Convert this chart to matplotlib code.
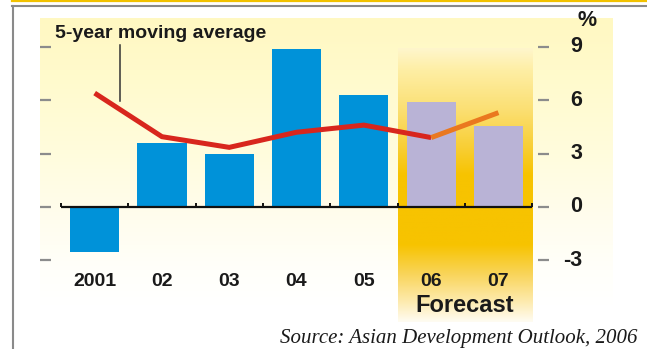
import numpy as np
import matplotlib.pyplot as plt
from matplotlib.lines import Line2D
from matplotlib.colors import to_rgb
import matplotlib.transforms as mtransforms

# GDP growth, % (2006-07 are forecasts)
years = ["2001", "02", "03", "04", "05", "06", "07"]
growth = [-2.55, 3.6, 3.0, 8.9, 6.3, 5.9, 4.55]
moving_avg = [6.4, 3.95, 3.35, 4.2, 4.6, 3.9, 5.3]
forecast_from = 5
yticks = [-3, 0, 3, 6, 9]

W, H = 647, 349
BAR_BLUE = "#0092d9"
BAR_LILAC = "#b9b3d6"
LINE_RED = "#d8261d"
LINE_ORANGE = "#ea781f"
LABEL_FONT = ["Liberation Sans", "DejaVu Sans"]
LABEL_SIZE = 14

# pixel layout of the plotting area
x0px, xstep = 61.0, 67.3      # left edge of first category, category width
y0px, ystep = 207.0, 17.8     # zero line, pixels per percentage point


def box(x0, y0, x1, y1):
    return [x0 / W, 1 - y1 / H, (x1 - x0) / W, (y1 - y0) / H]


def gradient(stops, n=300):
    pos = np.array([s[0] for s in stops], dtype=float)
    cols = np.array([to_rgb(s[1]) for s in stops])
    t = np.linspace(pos[0], pos[-1], n)
    img = np.stack([np.interp(t, pos, cols[:, k]) for k in range(3)], axis=1)
    return img[:, None, :]


fig = plt.figure(figsize=(W / 100, H / 100), dpi=100)

# pale yellow backdrop panel
bg = fig.add_axes(box(40, 18, 613, 305))
bg.imshow(gradient([(18, "#fff8c2"), (70, "#fffacb"), (150, "#fffcdc"),
                    (220, "#fffdee"), (270, "#fffffa"), (305, "#ffffff")]),
          aspect="auto", extent=(0, 1, 0, 1))
bg.axis("off")

ax = fig.add_axes(box(40, 18, 549, 300))
ax.patch.set_alpha(0)
xlim = (-0.5 - (x0px - 40) / xstep, -0.5 + (549 - x0px) / xstep)
ylim = (-(300 - y0px) / ystep, (y0px - 18) / ystep)
ax.set_xlim(*xlim)
ax.set_ylim(*ylim)
for s in ax.spines.values():
    s.set_visible(False)

# forecast band
band_top = (y0px - 48) / ystep
band_bot = -(322 - y0px) / ystep
band = gradient([(48, "#fff6cc"), (70, "#feeea4"), (110, "#fbdf72"),
                 (150, "#f8cd30"), (175, "#f7c300"), (245, "#f7c300"),
                 (275, "#f9d55c"), (300, "#fde9a8"), (322, "#fffcf2")])
ax.imshow(band, aspect="auto", clip_on=False, zorder=0.5,
          extent=(forecast_from - 0.5, len(years) - 0.5, band_bot, band_top))

x = np.arange(len(years))
colors = [BAR_BLUE if i < forecast_from else BAR_LILAC for i in x]
ax.bar(x, growth, width=0.73, color=colors, zorder=2)

# zero line with category separators
ax.hlines(0, -0.5, len(years) - 0.5, color="#111111", lw=1.6, zorder=3)
ax.vlines(np.arange(len(years) + 1) - 0.5, 0, 4 / ystep, color="#111111",
          lw=1.4, zorder=3)

# moving average, forecast segment in orange
ax.plot(x[:forecast_from + 1], moving_avg[:forecast_from + 1], color=LINE_RED,
        lw=3.6, solid_capstyle="butt", solid_joinstyle="miter", zorder=4)
ax.plot(x[forecast_from:], moving_avg[forecast_from:], color=LINE_ORANGE,
        lw=3.6, solid_capstyle="butt", zorder=4)

# y ticks drawn as short dashes on both sides
ax.set_xticks([])
ax.set_yticks(yticks)
ax.tick_params(axis="y", which="both", direction="in", length=8, width=1.6,
               color="#8c8c8c", left=True, right=True,
               labelleft=False, labelright=False)
trans = mtransforms.blended_transform_factory(fig.transFigure, ax.transData)
for v in yticks:
    ax.text(582 / W, v, f"{v}", transform=trans, ha="right", va="center",
            fontsize=LABEL_SIZE + 1.5, fontweight="bold", family=LABEL_FONT,
            color="#1a1a1a")
fig.text(587 / W, 1 - 21 / H, "%", ha="center", va="center",
         fontsize=LABEL_SIZE + 1.5, fontweight="bold", family=LABEL_FONT,
         color="#1a1a1a")

for i, lab in enumerate(years):
    ax.text(i, -(281 - y0px) / ystep, lab, ha="center", va="center",
            fontsize=LABEL_SIZE, fontweight="bold", family=LABEL_FONT,
            color="#1a1a1a", clip_on=False)
ax.text(forecast_from + 0.5, -(306 - y0px) / ystep, "Forecast", ha="center",
        va="center", fontsize=LABEL_SIZE + 3, fontweight="bold",
        family=LABEL_FONT, color="#1a1a1a", clip_on=False)

# label for the moving average
ax.text(-0.5 - 6 / xstep, (y0px - 33) / ystep, "5-year moving average",
        ha="left", va="center", fontsize=LABEL_SIZE, fontweight="bold",
        family=LABEL_FONT, color="#1a1a1a")
lx = 0.38
ly = np.interp(lx, x, moving_avg)
ax.plot([lx, lx], [ly + 0.5, (y0px - 45) / ystep], color="#333333", lw=1.1,
        zorder=4)

fig.text(638 / W, 1 - 343 / H, "Source: Asian Development Outlook, 2006",
         ha="right", va="baseline", fontsize=15, style="italic",
         family=["Liberation Serif", "DejaVu Serif"], color="#1a1a1a")

# frame lines
fig.add_artist(Line2D([12 / W, 1], [1 - 0.8 / H] * 2, color="#f2c200", lw=1.6))
fig.add_artist(Line2D([12 / W, 1], [1 - 5.5 / H] * 2, color="#8a8a8a", lw=1.5))
fig.add_artist(Line2D([13 / W] * 2, [1 - 5.5 / H, 0], color="#8a8a8a", lw=1.5))

fig.savefig("out.png", dpi=100)
